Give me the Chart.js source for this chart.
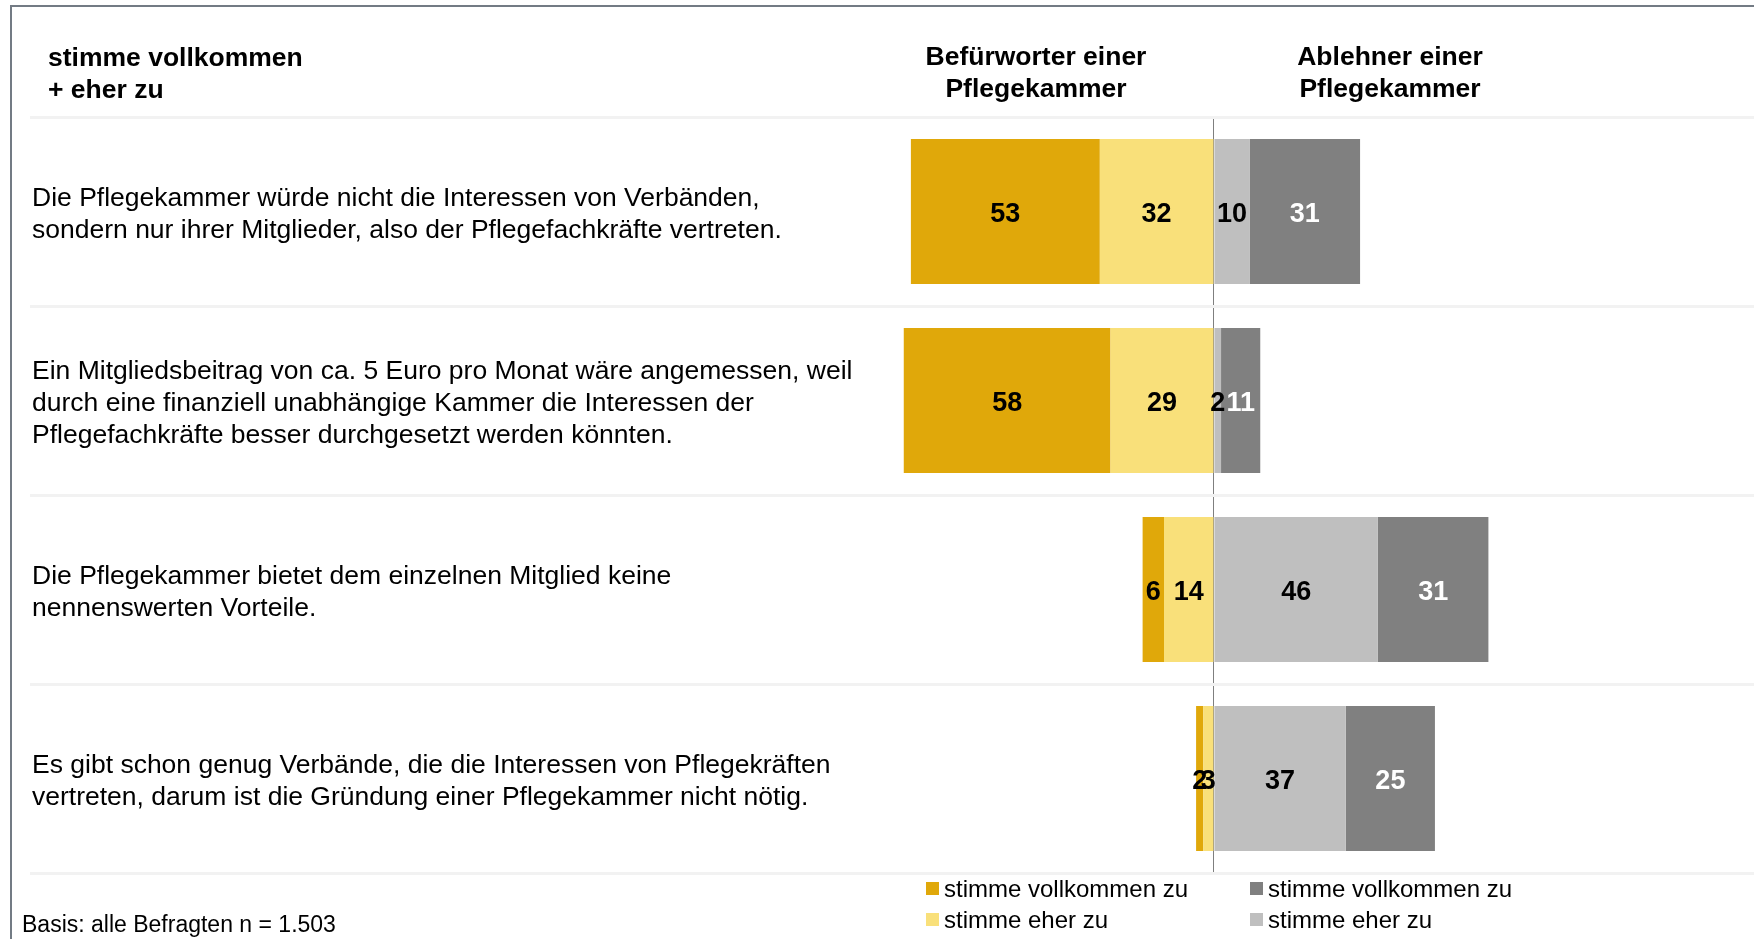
<!DOCTYPE html>
<html lang="de">
<head>
<meta charset="utf-8">
<title>Pflegekammer</title>
<script src="https://cdn.jsdelivr.net/npm/chart.js@4.4.1/dist/chart.umd.min.js"></script>
<style>
  body { margin: 0; background: #fff; overflow: hidden; font-family: "Liberation Sans", Arial, sans-serif; }
  #wrap { position: relative; width: 1754px; height: 939px; }
  #frame { position: absolute; left: 10px; top: 5px; right: -10px; bottom: -10px; border-left: 2px solid #737b84; border-top: 2px solid #737b84; }
  #chartBox { position: absolute; left: 0; top: 0; width: 1754px; height: 939px; }
  .txt { position: absolute; color: #000; white-space: nowrap; }
  .bold { font-weight: bold; font-size: 26.5px; line-height: 32px; }
  .head { text-align: center; width: 300px; }
  .legItem { position: absolute; font-size: 24px; line-height: 30px; height: 30px; white-space: nowrap; }
  .legItem span.sq { position: absolute; left: 0; top: 8px; width: 13px; height: 13px; }
  .legItem span.lab { position: absolute; left: 18px; top: 0; }
</style>
</head>
<body>
<div id="wrap">
  <div id="frame"></div>
  <div id="chartBox"><canvas id="kammerChart"></canvas></div>
  <div class="txt bold" style="left:48px; top:41px;">stimme vollkommen<br>+ eher zu</div>
  <div class="txt bold head" style="left:886px; top:40px;">Befürworter einer<br>Pflegekammer</div>
  <div class="txt bold head" style="left:1240px; top:40px;">Ablehner einer<br>Pflegekammer</div>
  <div id="legend"></div>
  <div class="txt" style="left:22px; top:910px; font-size:23px; line-height:28px;">Basis: alle Befragten n = 1.503</div>
</div>
<script>
// statements (one array per line of the label)
const statements = [
  ["Die Pflegekammer würde nicht die Interessen von Verbänden,", "sondern nur ihrer Mitglieder, also der Pflegefachkräfte vertreten."],
  ["Ein Mitgliedsbeitrag von ca. 5 Euro pro Monat wäre angemessen, weil", "durch eine finanziell unabhängige Kammer die Interessen der", "Pflegefachkräfte besser durchgesetzt werden könnten."],
  ["Die Pflegekammer bietet dem einzelnen Mitglied keine", "nennenswerten Vorteile."],
  ["Es gibt schon genug Verbände, die die Interessen von Pflegekräften", "vertreten, darum ist die Gründung einer Pflegekammer nicht nötig."]
];

// Befürworter (left side)
const befVollkommen = [53, 58, 6, 2];
const befEher = [32, 29, 14, 3];
// Ablehner (right side)
const ablEher = [10, 2, 46, 37];
const ablVollkommen = [31, 11, 31, 25];

const seriesNames = ["stimme vollkommen zu", "stimme eher zu"];

const colors = {
  befVoll: "#e0a80a",
  befEher: "#f9e07a",
  ablEher: "#bfbfbf",
  ablVoll: "#808080"
};

// legend (html)
const legendBox = document.getElementById("legend");
const legendItems = [
  { x: 926, y: 874, color: colors.befVoll, text: seriesNames[0] },
  { x: 926, y: 905, color: colors.befEher, text: seriesNames[1] },
  { x: 1250, y: 874, color: colors.ablVoll, text: seriesNames[0] },
  { x: 1250, y: 905, color: colors.ablEher, text: seriesNames[1] }
];
legendItems.forEach(item => {
  let d = document.createElement("div");
  d.className = "legItem";
  d.style.left = item.x + "px";
  d.style.top = item.y + "px";
  d.innerHTML = `<span class="sq" style="background:${item.color}"></span><span class="lab">${item.text}</span>`;
  legendBox.appendChild(d);
});

// value labels in the middle of each segment
const segmentLabels = {
  id: "segmentLabels",
  afterDatasetsDraw(chart) {
    const ctx = chart.ctx;
    ctx.save();
    ctx.font = "bold 27px 'Liberation Sans', Arial, sans-serif";
    ctx.textAlign = "center";
    ctx.textBaseline = "middle";
    chart.data.datasets.forEach((ds, i) => {
      const meta = chart.getDatasetMeta(i);
      meta.data.forEach((bar, j) => {
        const v = Math.abs(ds.data[j]);
        ctx.fillStyle = ds.labelColor;
        ctx.fillText(String(v), (bar.x + bar.base) / 2, bar.y + 3);
      });
    });
    ctx.restore();
  }
};

Chart.defaults.font.family = "'Liberation Sans', Arial, sans-serif";

new Chart(document.getElementById("kammerChart"), {
  type: "bar",
  data: {
    labels: statements,
    datasets: [
      { label: "Befürworter eher", data: befEher.map(v => -v), backgroundColor: colors.befEher, labelColor: "#000" },
      { label: "Befürworter vollkommen", data: befVollkommen.map(v => -v), backgroundColor: colors.befVoll, labelColor: "#000" },
      { label: "Ablehner eher", data: ablEher, backgroundColor: colors.ablEher, labelColor: "#000" },
      { label: "Ablehner vollkommen", data: ablVollkommen, backgroundColor: colors.ablVoll, labelColor: "#fff" }
    ]
  },
  options: {
    indexAxis: "y",
    responsive: true,
    maintainAspectRatio: false,
    animation: false,
    layout: { padding: { left: 30, right: 0, top: 117, bottom: 66 } },
    datasets: { bar: { barPercentage: 0.767, categoryPercentage: 1, borderWidth: 0 } },
    plugins: { legend: { display: false }, tooltip: { enabled: false } },
    scales: {
      x: {
        stacked: true,
        min: -332.1,
        max: 151.5,
        z: 1,
        afterBuildTicks: scale => { scale.ticks = [{ value: 0 }]; },
        ticks: { display: false },
        border: { display: false },
        grid: { drawTicks: false, color: "#7f7f7f", lineWidth: 1 }
      },
      y: {
        stacked: true,
        afterFit: scale => { scale.width = 0; },
        border: { display: false },
        grid: { offset: true, drawTicks: false, color: "#f2f2f2", lineWidth: 3 },
        ticks: {
          mirror: true,
          padding: 2,
          labelOffset: 3,
          color: "#000",
          font: { size: 26.5, lineHeight: 1.21 }
        }
      }
    }
  },
  plugins: [segmentLabels]
});
</script>
</body>
</html>
